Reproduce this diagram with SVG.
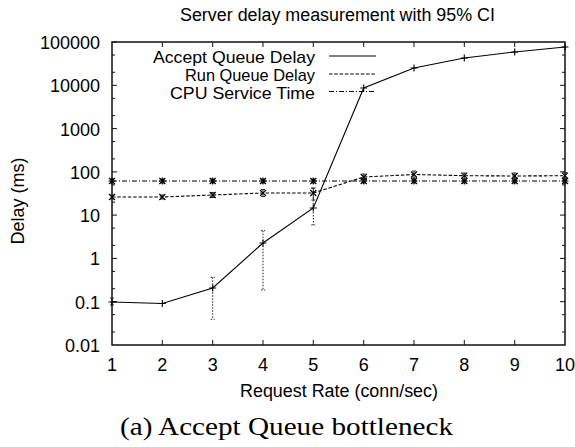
<svg xmlns="http://www.w3.org/2000/svg" xmlns:xlink="http://www.w3.org/1999/xlink" width="575" height="447" viewBox="0 0 575 447">
<style>
.t{font-family:"Liberation Sans",Arial,sans-serif;fill:#000}
.cap{font-family:"Liberation Serif","Times New Roman",serif;fill:#000}
.frame{fill:none;stroke:#111;stroke-width:1.5}
.tick{fill:none;stroke:#111;stroke-width:1}
.solid{fill:none;stroke:#000;stroke-width:1.1}
.dash{fill:none;stroke:#000;stroke-width:1.1;stroke-dasharray:3.5 1.8}
.dashdot{fill:none;stroke:#000;stroke-width:1.1;stroke-dasharray:5 2 1 2}
.err{fill:none;stroke:#222;stroke-width:1;stroke-dasharray:1.5 1.5}
.errs{fill:none;stroke:#333;stroke-width:1}
.mk{fill:none;stroke:#000;stroke-width:1.1}
</style>
<defs>
<path id="plus" d="M-3.5,0H3.5M0,-3.5V3.5"/>
<path id="cross" d="M-3,-3L3,3M-3,3L3,-3"/>
<path id="star" d="M-3.5,0H3.5M0,-3.5V3.5M-3,-3L3,3M-3,3L3,-3"/>
</defs>

<text class="t" x="180" y="20.5" font-size="18" textLength="315" lengthAdjust="spacingAndGlyphs">Server delay measurement with 95% CI</text>

<g id="axes">
<rect class="frame" x="112" y="42" width="453" height="303"/>
<path class="tick" d="M112,42h5M112,85.3h5M112,128.6h5M112,171.9h5M112,215.1h5M112,258.4h5M112,301.7h5
M112,332h3M112,314.7h3M112,288.7h3M112,271.4h3M112,245.4h3M112,228.1h3M112,202.1h3M112,184.9h3M112,158.9h3M112,141.6h3M112,115.6h3M112,98.3h3M112,72.3h3M112,55h3
M565,85.3h-5M565,128.6h-5M565,171.9h-5M565,215.1h-5M565,258.4h-5M565,301.7h-5
M565,332h-3M565,314.7h-3M565,288.7h-3M565,271.4h-3M565,245.4h-3M565,228.1h-3M565,202.1h-3M565,184.9h-3M565,158.9h-3M565,141.6h-3M565,115.6h-3M565,98.3h-3M565,72.3h-3M565,55h-3
M162.3,345v-5M212.7,345v-5M263,345v-5M313.3,345v-5M363.7,345v-5M414,345v-5M464.3,345v-5M514.7,345v-5
M162.3,42v5M212.7,42v5M263,42v5M313.3,42v5M363.7,42v5M414,42v5M464.3,42v5M514.7,42v5"/>
<g class="t" font-size="18" text-anchor="end">
<text x="100" y="49">100000</text>
<text x="100" y="92.3">10000</text>
<text x="100" y="135.6">1000</text>
<text x="100" y="178.9">100</text>
<text x="100" y="222.1">10</text>
<text x="100" y="265.4">1</text>
<text x="100" y="308.7">0.1</text>
<text x="100" y="352">0.01</text>
</g>
<g class="t" font-size="18" text-anchor="middle">
<text x="112" y="370.5">1</text>
<text x="162.3" y="370.5">2</text>
<text x="212.7" y="370.5">3</text>
<text x="263" y="370.5">4</text>
<text x="313.3" y="370.5">5</text>
<text x="363.7" y="370.5">6</text>
<text x="414" y="370.5">7</text>
<text x="464.3" y="370.5">8</text>
<text x="514.7" y="370.5">9</text>
<text x="565" y="370.5">10</text>
</g>
<text class="t" x="240" y="397" font-size="18" textLength="198" lengthAdjust="spacingAndGlyphs">Request Rate (conn/sec)</text>
<text class="t" transform="translate(24,201) rotate(-90)" font-size="18" text-anchor="middle">Delay (ms)</text>
</g>

<g id="legend">
<text class="t" x="153" y="63" font-size="17" textLength="162" lengthAdjust="spacingAndGlyphs">Accept Queue Delay</text>
<text class="t" x="185" y="81" font-size="17" textLength="130" lengthAdjust="spacingAndGlyphs">Run Queue Delay</text>
<text class="t" x="170" y="98.5" font-size="17" textLength="145" lengthAdjust="spacingAndGlyphs">CPU Service Time</text>
<path class="solid" d="M329,56H376"/>
<path class="dash" d="M329,74H376"/>
<path class="dashdot" d="M329,91.5H376"/>
</g>

<g id="connectors">
<g id="cpu-service-time">
<path class="dashdot" d="M112,181L162.3,181L212.7,181L263,181L313.3,181L363.7,181L414,181L464.3,181L514.7,181L565,181"/>
<path class="errs" d="M112,179v4M110,179h4M110,183h4M162.3,179v4M160.3,179h4M160.3,183h4M212.7,179v4M210.7,179h4M210.7,183h4M263,179v4M261,179h4M261,183h4M313.3,179v4M311.3,179h4M311.3,183h4M363.7,179v4M361.7,179h4M361.7,183h4M414,179v4M412,179h4M412,183h4M464.3,179v4M462.3,179h4M462.3,183h4M514.7,179v4M512.7,179h4M512.7,183h4M565,179v4M563,179h4M563,183h4"/>
<g class="mk"><use href="#star" x="112" y="181"/><use href="#star" x="162.3" y="181"/><use href="#star" x="212.7" y="181"/><use href="#star" x="263" y="181"/><use href="#star" x="313.3" y="181"/><use href="#star" x="363.7" y="181"/><use href="#star" x="414" y="181"/><use href="#star" x="464.3" y="181"/><use href="#star" x="514.7" y="181"/><use href="#star" x="565" y="181"/></g>
</g>
<g id="run-queue-delay">
<path class="dash" d="M112,197L162.3,197L212.7,195L263,193L313.3,193L363.7,177L414,174.5L464.3,175.7L514.7,176L565,175.7"/>
<path class="errs" d="M112,195v4M110,195h4M110,199h4M162.3,195v4M160.3,195h4M160.3,199h4M212.7,192.5v5M210.7,192.5h4M210.7,197.5h4M263,189.5v7M261,189.5h4M261,196.5h4M313.3,188v12M311.3,188h4M311.3,200h4M363.7,174v6M361.7,174h4M361.7,180h4M414,171v7M412,171h4M412,178h4M464.3,173v6M462.3,173h4M462.3,179h4M514.7,173v6M512.7,173h4M512.7,179h4M565,172.5v6M563,172.5h4M563,178.5h4"/>
<g class="mk"><use href="#cross" x="112" y="197"/><use href="#cross" x="162.3" y="197"/><use href="#cross" x="212.7" y="195"/><use href="#cross" x="263" y="193"/><use href="#cross" x="313.3" y="193"/><use href="#cross" x="363.7" y="177"/><use href="#cross" x="414" y="174.5"/><use href="#cross" x="464.3" y="175.7"/><use href="#cross" x="514.7" y="176"/><use href="#cross" x="565" y="175.7"/></g>
</g>
<g id="accept-queue-delay">
<path class="solid" d="M112,302L162.3,303.5L212.7,288L263,243L313.3,208L363.7,88L414,68L464.3,58L514.7,52L565,47"/>
<path class="err" d="M112,298v7M110,298h4M110,305h4M212.7,277.3v42M210.7,277.3h4M210.7,319.3h4M263,230.7v59.3M261,230.7h4M261,290h4M313.3,188v37M311.3,188h4M311.3,225h4"/>
<g class="mk"><use href="#plus" x="112" y="302"/><use href="#plus" x="162.3" y="303.5"/><use href="#plus" x="212.7" y="288"/><use href="#plus" x="263" y="243"/><use href="#plus" x="313.3" y="208"/><use href="#plus" x="363.7" y="88"/><use href="#plus" x="414" y="68"/><use href="#plus" x="464.3" y="58"/><use href="#plus" x="514.7" y="52"/><use href="#plus" x="565" y="47"/></g>
</g>
</g>

<text class="cap" x="120" y="435" font-size="25" textLength="333" lengthAdjust="spacingAndGlyphs">(a) Accept Queue bottleneck</text>
</svg>
